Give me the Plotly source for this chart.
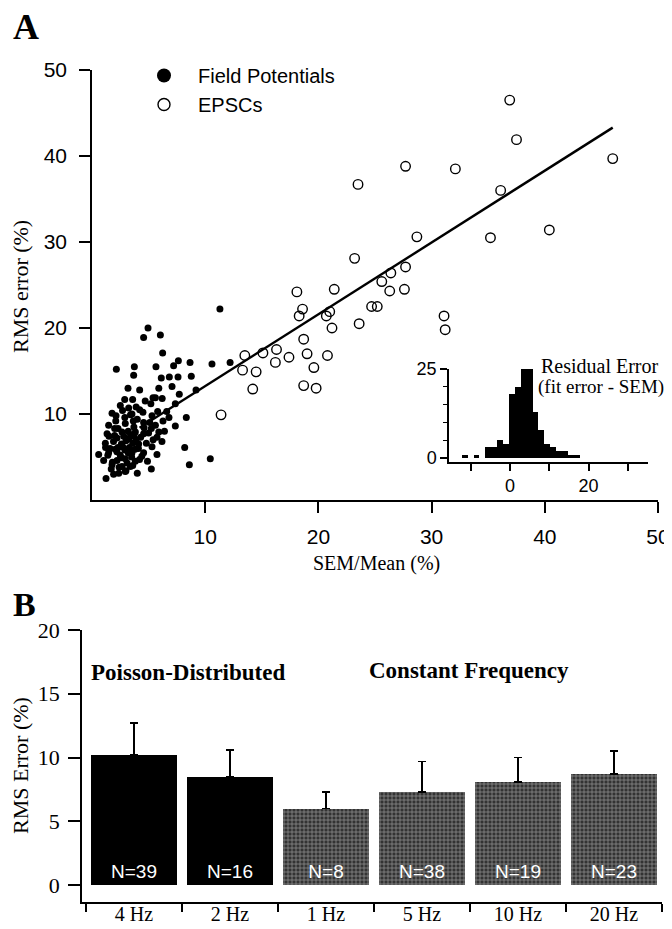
import plotly.graph_objects as go

# the page puts the graph div 8px in from the top-left corner, so the figure is sized to fit
OX, OY = 8, 8
W, H = 664, 921
SANS = "Liberation Sans, Arial, sans-serif"
SERIF = "Liberation Serif, Times New Roman, serif"

# panel A - field potentials (filled dots)
fp_x = [11.3, 4.95, 4.56, 6.04, 6.24, 2.15, 3.74, 3.68, 5.65, 7.21, 7.63, 8.66, 10.6, 12.2,
        6.12, 6.83, 7.6, 8.77, 7.07, 3.18, 4.21, 7.71, 9.19, 2.89, 3.59, 5.39, 5.6, 3.24,
        4.21, 7.36, 1.77, 2.12, 3.53, 5.3, 5.8, 3.65, 8.33, 6.27, 4.56, 1.47, 2.94, 7.36,
        5.24, 1.33, 2.65, 3.83, 4.56, 5.74, 2.21, 3.24, 6.18, 1.18, 4.12, 2.71, 2.06, 5.3,
        8.19, 0.59, 1.47, 3.53, 4.56, 5.74, 1.03, 2.21, 2.94, 3.83, 1.77, 2.65, 3.39, 8.6,
        10.45, 5.24, 1.91, 2.36, 1.24, 2.94,
        1.6, 1.9, 2.0, 2.3, 2.5, 2.6, 2.8, 2.9, 3.0, 3.1, 3.2, 3.3, 3.4, 3.5, 3.6, 3.7,
        3.8, 3.9, 4.0, 4.1, 4.3, 4.4, 4.6, 4.8, 5.0, 5.1, 5.4, 5.6, 5.9, 6.4, 1.4, 1.8,
        2.4, 2.1, 2.7, 3.0, 2.2, 2.6, 3.6, 4.2, 4.9, 1.2, 1.5, 2.3, 2.9, 3.4, 3.9, 4.5,
        5.2, 6.6, 6.8, 6.2, 4.7, 5.9, 2.5, 3.2, 3.7, 2.0, 1.7, 4.0]
fp_y = [22.2, 20.0, 18.9, 19.2, 17.1, 15.2, 15.5, 14.5, 15.5, 15.6, 16.2, 16.0, 15.8, 16.0,
        14.2, 14.3, 14.3, 14.4, 13.2, 13.0, 12.8, 12.3, 12.8, 11.7, 11.7, 11.9, 11.9, 10.7,
        10.5, 11.2, 10.1, 9.8, 10.0, 9.8, 10.3, 9.2, 9.6, 9.2, 9.0, 8.7, 8.9, 8.6,
        8.3, 7.7, 7.9, 7.9, 7.7, 7.3, 7.2, 7.1, 6.8, 6.6, 6.5, 6.2, 5.9, 6.2,
        6.1, 5.3, 5.5, 5.5, 5.5, 5.3, 4.6, 4.6, 4.8, 4.5, 4.1, 3.9, 3.9, 4.1,
        4.8, 3.6, 3.0, 3.1, 2.5, 3.3,
        6.0, 6.8, 7.5, 8.3, 5.2, 6.5, 7.4, 5.8, 6.9, 4.3, 8.0, 6.1, 7.6, 5.0, 6.6, 8.5,
        5.9, 7.0, 9.4, 6.0, 7.3, 5.1, 8.4, 6.6, 7.8, 9.0, 7.0, 8.7, 7.9, 8.0, 5.2, 4.4,
        3.8, 9.2, 10.4, 3.4, 5.6, 4.9, 4.0, 4.7, 4.5, 6.1, 7.4, 6.1, 9.6, 9.9, 10.8, 10.2,
        11.2, 10.3, 9.6, 11.8, 11.5, 13.0, 11.0, 5.5, 7.4, 8.3, 3.6, 3.1]

# panel A - EPSCs (open circles)
epsc_x = [27.7, 23.5, 28.7, 23.2, 18.1, 21.4, 18.6, 18.3, 21.0, 20.7, 21.2, 27.7, 26.4, 25.6,
          26.3, 27.6, 24.7, 25.2, 23.6, 18.7, 16.3, 15.1, 13.5, 17.4, 19.0, 20.8, 16.2, 13.3,
          14.5, 19.6, 14.2, 18.7, 19.8, 11.4, 36.9, 37.5, 32.1, 46.0, 36.1, 40.4, 35.2, 31.1,
          31.2]
epsc_y = [38.8, 36.7, 30.6, 28.1, 24.2, 24.5, 22.2, 21.4, 21.9, 21.4, 20.0, 27.1, 26.4, 25.4,
          24.3, 24.5, 22.5, 22.5, 20.5, 18.7, 17.5, 17.1, 16.8, 16.6, 17.0, 16.8, 16.0, 15.1,
          14.9, 15.4, 12.9, 13.3, 13.0, 9.9, 46.5, 41.9, 38.5, 39.7, 36.0, 31.4, 30.5, 21.4,
          19.8]

# regression line end points
fit_x = [4.2, 46.0]
fit_y = [8.4, 43.3]

# inset: residual error histogram
hist_centers = [-11.5, -10, -8.5, -7, -5.5, -4, -2.5, -1, 0.5, 2, 3.5, 5, 6.5, 8, 9.5, 11,
                12.5, 14, 15.5, 17]
hist_counts = [1, 0, 1, 0, 3, 3, 5, 4, 18, 20, 25, 25, 13, 8, 4, 3, 2, 2, 1, 1]

# panel B
freq_labels = ["4 Hz", "2 Hz", "1 Hz", "5 Hz", "10 Hz", "20 Hz"]
rms_mean = [10.2, 8.5, 6.0, 7.3, 8.1, 8.7]
rms_sem = [2.5, 2.1, 1.3, 2.4, 1.9, 1.8]
n_labels = ["N=39", "N=16", "N=8", "N=38", "N=19", "N=23"]
poisson = [True, True, False, False, False, False]


def px(x):
    return (x - OX) / W


def py(y):
    return 1 - (y - OY) / H


fig = go.Figure()

fig.add_trace(go.Scatter(x=fp_x, y=fp_y, mode="markers", showlegend=False,
                         marker=dict(color="black", size=7)))
fig.add_trace(go.Scatter(x=epsc_x, y=epsc_y, mode="markers", showlegend=False,
                         marker=dict(symbol="circle-open", color="black", size=9.5,
                                     line=dict(width=1.4))))
fig.add_trace(go.Scatter(x=fit_x, y=fit_y, mode="lines", showlegend=False,
                         line=dict(color="black", width=2.4)))
# legend entries only
fig.add_trace(go.Scatter(x=[None], y=[None], mode="markers", name="Field Potentials",
                         marker=dict(color="black", size=14)))
fig.add_trace(go.Scatter(x=[None], y=[None], mode="markers", name="EPSCs",
                         marker=dict(symbol="circle-open", color="black", size=12,
                                     line=dict(width=1.4))))

# inset histogram
fig.add_trace(go.Bar(x=hist_centers, y=hist_counts, width=1.5, xaxis="x2", yaxis="y2",
                     showlegend=False, marker=dict(color="black", line=dict(width=0))))

# bar chart
bar_cols = ["black" if p else "#333333" for p in poisson]
shapes = ["" if p else "+" for p in poisson]
fig.add_trace(go.Bar(
    x=freq_labels, y=rms_mean, width=0.9, xaxis="x3", yaxis="y3", showlegend=False,
    marker=dict(color=bar_cols, line=dict(width=0),
                pattern=dict(shape=shapes, fgcolor="#8c8c8c", size=4, solidity=0.3,
                             fillmode="overlay")),
    error_y=dict(type="data", symmetric=False, array=rms_sem, arrayminus=[0] * 6,
                 color="black", thickness=1.5, width=4),
    text=n_labels, textposition="inside", insidetextanchor="start", textangle=0,
    textfont=dict(color="white", family=SANS, size=19),
))

axis_common = dict(showline=True, linecolor="black", linewidth=1.5, showgrid=False,
                   zeroline=False, ticks="outside", tickcolor="black", tickwidth=1.5,
                   automargin=False)

fig.update_layout(
    width=W, height=H,
    margin=dict(l=0, r=0, t=0, b=0),
    plot_bgcolor="white", paper_bgcolor="white",
    bargap=0,
    legend=dict(x=px(130), y=py(56), xanchor="left", yanchor="top",
                font=dict(family=SANS, size=20, color="black"),
                bgcolor="rgba(0,0,0,0)", itemwidth=58),
    xaxis=dict(axis_common, domain=[px(92), px(658)], range=[0, 50],
               tickvals=[10, 20, 30, 40, 50], ticklen=11, anchor="y",
               tickfont=dict(family=SANS, size=21, color="black"), ticklabelstandoff=6),
    yaxis=dict(axis_common, domain=[py(500), py(70)], range=[0, 50],
               tickvals=[10, 20, 30, 40, 50], ticklen=11, anchor="x",
               tickfont=dict(family=SANS, size=21, color="black"), ticklabelstandoff=8),
    xaxis2=dict(axis_common, domain=[px(449), px(648)], range=[-15.5, 35.1],
                tickvals=[-10, 0, 10, 20, 30], ticktext=["", "0", "", "20", ""],
                ticklen=7, anchor="y2",
                tickfont=dict(family=SANS, size=18, color="black")),
    yaxis2=dict(axis_common, domain=[py(462), py(369)], range=[-1.1, 25],
                tickvals=[0, 25], ticklen=7, anchor="x2",
                minor=dict(tickvals=[5, 10, 15, 20], ticklen=4, ticks="outside",
                           tickcolor="black", tickwidth=1.2),
                tickfont=dict(family=SANS, size=18, color="black")),
    xaxis3=dict(axis_common, domain=[px(82), px(662)], range=[-0.54, 5.5],
                type="category", tickson="boundaries", ticklen=8, anchor="y3",
                tickfont=dict(family=SERIF, size=20, color="black"), ticklabelstandoff=-7),
    yaxis3=dict(axis_common, domain=[py(902), py(630)], range=[-1.33, 20],
                tickvals=[0, 5, 10, 15, 20], ticklen=12, anchor="x3",
                tickfont=dict(family=SERIF, size=22, color="black"), ticklabelstandoff=4),
)

annots = [
    dict(text="<b>A</b>", x=px(26), y=py(27), font=dict(family=SERIF, size=36)),
    dict(text="<b>B</b>", x=px(24), y=py(604), font=dict(family=SERIF, size=34)),
    dict(text="RMS error (%)", x=px(20), y=py(287), textangle=-90,
         font=dict(family=SERIF, size=22)),
    dict(text="SEM/Mean (%)", x=px(376), y=py(563), font=dict(family=SERIF, size=20)),
    dict(text="Residual Error", x=px(600), y=py(366), font=dict(family=SERIF, size=20)),
    dict(text="(fit error - SEM)", x=px(601), y=py(387), font=dict(family=SERIF, size=19)),
    dict(text="RMS Error (%)", x=px(20), y=py(766), textangle=-90,
         font=dict(family=SERIF, size=22)),
    dict(text="<b>Poisson-Distributed</b>", x=px(188), y=py(672),
         font=dict(family=SERIF, size=23)),
    dict(text="<b>Constant Frequency</b>", x=px(469), y=py(670),
         font=dict(family=SERIF, size=23)),
]
for a in annots:
    a["font"]["color"] = "black"
    fig.add_annotation(xref="paper", yref="paper", showarrow=False,
                       xanchor="center", yanchor="middle", **a)

fig.write_html("out.html")
